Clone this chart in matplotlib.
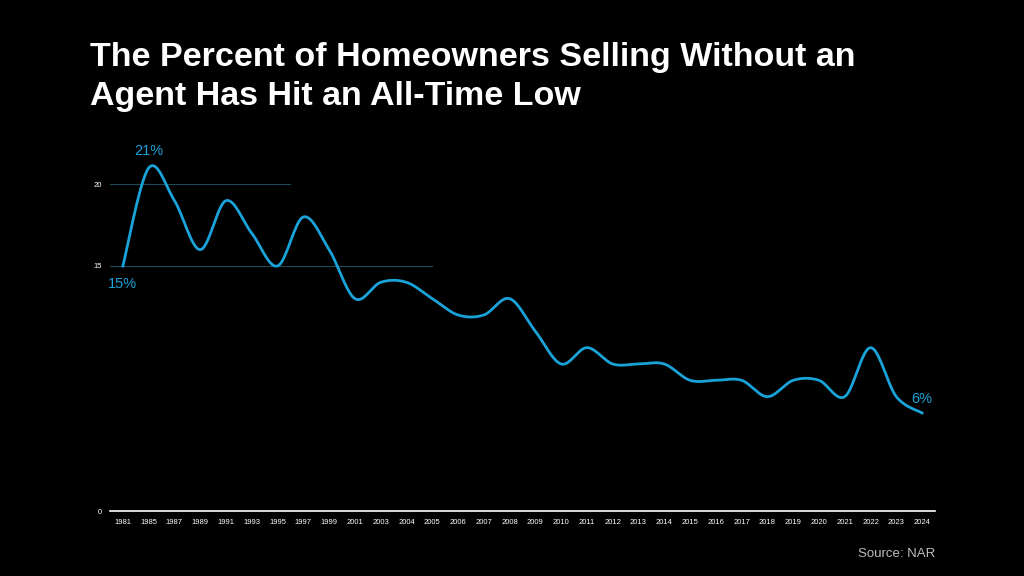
import matplotlib
matplotlib.use("Agg")
import matplotlib.pyplot as plt
import numpy as np

plt.rcParams["font.family"] = "Liberation Sans"

years = ["1981", "1985", "1987", "1989", "1991", "1993", "1995", "1997", "1999", "2001",
         "2003", "2004", "2005", "2006", "2007", "2008", "2009", "2010", "2011", "2012",
         "2013", "2014", "2015", "2016", "2017", "2018", "2019", "2020", "2021", "2022",
         "2023", "2024"]
pct = [15, 21, 19, 16, 19, 17, 15, 18, 16, 13,
       14, 14, 13, 12, 12, 13, 11, 9, 10, 9,
       9, 9, 8, 8, 8, 7, 8, 8, 7, 10,
       7, 6]

LINE = "#1aa3d9"
fig = plt.figure(figsize=(10.24, 5.76), dpi=100, facecolor="black")
ax = fig.add_axes([110 / 1024, 1 - 511 / 576, 825 / 1024, 361 / 576], facecolor="black")

# smooth line through the points (Catmull-Rom)
x = np.arange(len(pct), dtype=float)
y = np.array(pct, dtype=float)
px = np.concatenate([[x[0]], x, [x[-1]]])
py = np.concatenate([[y[0]], y, [y[-1]]])
sx, sy = [], []
t = np.linspace(0, 1, 20)
for i in range(1, len(px) - 2):
    p0, p1, p2, p3 = [np.array([px[j], py[j]]) for j in (i - 1, i, i + 1, i + 2)]
    for tt in t:
        pt = 0.5 * (2 * p1 + (-p0 + p2) * tt + (2 * p0 - 5 * p1 + 4 * p2 - p3) * tt ** 2
                    + (-p0 + 3 * p1 - 3 * p2 + p3) * tt ** 3)
        sx.append(pt[0]); sy.append(pt[1])
ax.plot(sx, sy, color=LINE, lw=2, zorder=3)

# partial gridlines as in the original
ax.plot([-0.5, 6.5], [20, 20], color="#1f4a5c", lw=0.8, zorder=1)
ax.plot([-0.5, 12], [15, 15], color="#1f4a5c", lw=0.8, zorder=1)

ax.text(0, 14.3, "15%", color=LINE, fontsize=10.5, ha="center", va="top")
ax.text(1, 21.6, "21%", color=LINE, fontsize=10.5, ha="center", va="bottom")
ax.text(len(pct) - 1, 6.4, "6%", color=LINE, fontsize=10.5, ha="center", va="bottom")

ax.set_xlim(-0.5, len(pct) - 0.5)
ax.set_ylim(0, 22.1)
ax.set_xticks(x)
ax.set_xticklabels(years, color="white", fontsize=5.5)
ax.set_yticks([0, 15, 20])
ax.set_yticklabels(["0", "15", "20"], color="white", fontsize=5.5)
ax.tick_params(length=0, pad=6)
for s in ["top", "right", "left"]:
    ax.spines[s].set_visible(False)
ax.spines["bottom"].set_color("white")
ax.spines["bottom"].set_linewidth(1.2)

fig.text(90 / 1024, 1 - 77 / 576, "The Percent of Homeowners Selling Without an\nAgent Has Hit an All-Time Low",
         color="white", fontsize=24.5, fontweight="bold", ha="left", va="center", linespacing=1.33)
fig.text(935 / 1024, 1 - 554 / 576, "Source: NAR", color="#bbbbbb", fontsize=9.5, ha="right", va="center")

fig.savefig("out.png", dpi=100, facecolor="black")
